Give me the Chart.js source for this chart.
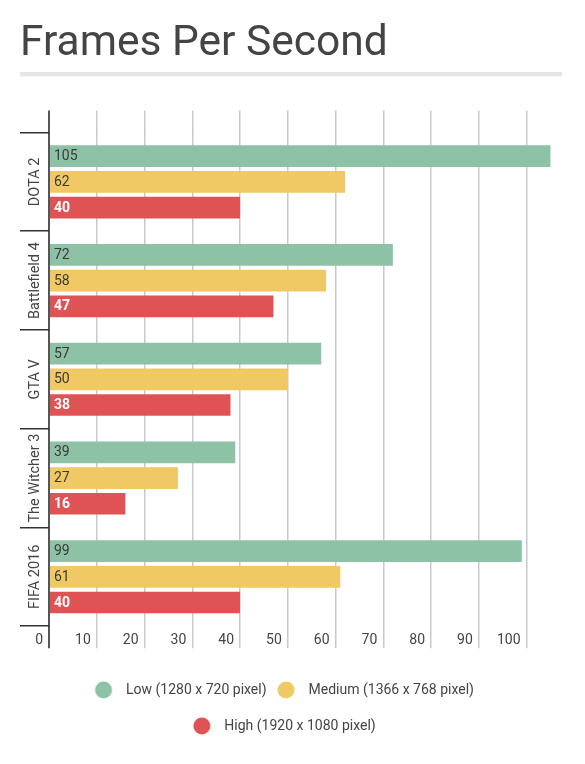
<!DOCTYPE html>
<html>
<head>
<meta charset="utf-8">
<title>Frames Per Second</title>
<script src="https://cdn.jsdelivr.net/npm/chart.js@4.4.1/dist/chart.umd.min.js"></script>
<style>
  html, body { margin: 0; padding: 0; background: #fff; }
  canvas { display: block; }
</style>
</head>
<body>
<canvas id="fpsChart" width="585" height="764"></canvas>
<script>
// data
const games = ['DOTA 2', 'Battlefield 4', 'GTA V', 'The Witcher 3', 'FIFA 2016'];
const lowFps = [105, 72, 57, 39, 99];
const mediumFps = [62, 58, 50, 27, 61];
const highFps = [40, 47, 38, 16, 40];
const seriesNames = ['Low (1280 x 720 pixel)', 'Medium (1366 x 768 pixel)', 'High (1920 x 1080 pixel)'];
const seriesColors = ['#8dc2a6', '#f0c965', '#df5354'];
const xMax = 107;
const xStep = 10;

const FONT = 'Roboto, "Noto Sans", sans-serif';

// legend dots, circle sits left of the box so the text gap matches
function makeDot(color) {
  const c = document.createElement('canvas');
  c.width = 40;
  c.height = 18;
  const g = c.getContext('2d');
  g.fillStyle = color;
  g.beginPath();
  g.arc(11, 9, 8.5, 0, Math.PI * 2);
  g.fill();
  return c;
}
const dots = seriesColors.map(makeDot);

function gridColor(ctx) {
  return ctx.tick && ctx.tick.value === 0 ? '#555' : '#c9c9c9';
}
function gridWidth(ctx) {
  return ctx.tick && ctx.tick.value === 0 ? 2 : 1.5;
}

// title underline
const underline = {
  id: 'underline',
  beforeDraw(chart) {
    const c = chart.ctx;
    c.save();
    c.fillStyle = '#e6e6e6';
    c.fillRect(20, 72, 542, 4.5);
    c.restore();
  }
};

// game names, rotated, centred in each band
const categoryLabels = {
  id: 'categoryLabels',
  afterDraw(chart) {
    const y = chart.scales.y;
    const c = chart.ctx;
    c.save();
    c.font = '14.5px ' + FONT;
    c.fillStyle = '#444';
    c.textAlign = 'center';
    c.textBaseline = 'middle';
    games.forEach(function (name, i) {
      c.save();
      c.translate(y.left + 15, y.getPixelForValue(i));
      c.rotate(-Math.PI / 2);
      c.fillText(name, 0, 0);
      c.restore();
    });
    c.restore();
  }
};

// value inside bar at its start
const valueLabels = {
  id: 'valueLabels',
  afterDatasetsDraw(chart) {
    const c = chart.ctx;
    c.save();
    c.textAlign = 'left';
    c.textBaseline = 'middle';
    chart.data.datasets.forEach(function (ds, di) {
      const meta = chart.getDatasetMeta(di);
      const red = di === 2;
      c.font = (red ? 'bold ' : '') + '14px ' + FONT;
      c.fillStyle = red ? '#fff' : '#3a3a3a';
      meta.data.forEach(function (bar, i) {
        c.fillText(String(ds.data[i]), bar.base + 4, bar.y + 0.5);
      });
    });
    c.restore();
  }
};

const ctx = document.getElementById('fpsChart').getContext('2d');
const chart = new Chart(ctx, {
  type: 'bar',
  data: {
    labels: games,
    datasets: [
      { label: seriesNames[0], data: lowFps, backgroundColor: seriesColors[0] },
      { label: seriesNames[1], data: mediumFps, backgroundColor: seriesColors[1] },
      { label: seriesNames[2], data: highFps, backgroundColor: seriesColors[2] }
    ]
  },
  options: {
    indexAxis: 'y',
    responsive: false,
    animation: false,
    categoryPercentage: 0.78,
    barPercentage: 0.845,
    layout: { padding: { top: 0, left: 20, right: 25, bottom: 21 } },
    font: { family: FONT },
    scales: {
      x: {
        type: 'linear',
        position: 'bottom',
        min: 0,
        max: xMax,
        border: { display: false },
        grid: { color: gridColor, lineWidth: gridWidth, tickLength: 22 },
        ticks: {
          stepSize: xStep,
          includeBounds: false,
          align: 'end',
          labelOffset: -6,
          padding: -16,
          color: '#444',
          font: { size: 14, family: FONT }
        },
        title: { display: true, text: '', font: { size: 10, lineHeight: 1 }, padding: { top: 18, bottom: 0 } }
      },
      x2: {
        type: 'linear',
        axis: 'x',
        position: 'top',
        min: 0,
        max: xMax,
        border: { display: false },
        grid: { drawOnChartArea: false, color: gridColor, lineWidth: gridWidth, tickLength: 22 },
        ticks: { display: false, stepSize: xStep, includeBounds: false }
      },
      y: {
        type: 'category',
        border: { display: false },
        grid: { drawOnChartArea: false, offset: true, tickLength: 29, color: '#333', lineWidth: 1.5 },
        ticks: { display: false }
      }
    },
    plugins: {
      title: {
        display: true,
        text: 'Frames Per Second',
        align: 'start',
        color: '#444',
        font: { size: 42.5, weight: 'normal', family: FONT, lineHeight: 1.2 },
        padding: { top: 18.5, bottom: 41 }
      },
      legend: {
        position: 'bottom',
        align: 'center',
        labels: {
          usePointStyle: true,
          pointStyleWidth: 13,
          padding: 22,
          color: '#444',
          font: { size: 14, family: FONT },
          generateLabels(chart) {
            const items = Chart.defaults.plugins.legend.labels.generateLabels(chart);
            items.forEach(function (it, i) { it.pointStyle = dots[i]; });
            return items;
          }
        }
      },
      tooltip: { enabled: false }
    }
  },
  plugins: [underline, categoryLabels, valueLabels]
});
</script>
</body>
</html>
